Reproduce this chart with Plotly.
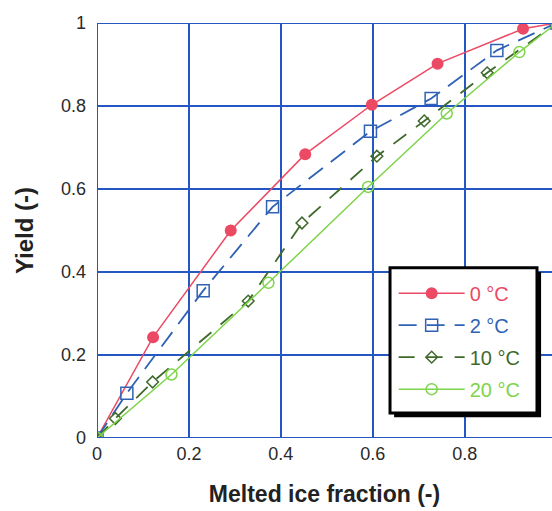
import plotly.graph_objects as go

# Data
x0 = [0, 0.122, 0.291, 0.453, 0.598, 0.741, 0.927, 1.0]
y0 = [0, 0.243, 0.500, 0.684, 0.803, 0.902, 0.986, 1.0]

x2 = [0, 0.065, 0.231, 0.382, 0.595, 0.727, 0.870, 1.0]
y2 = [0, 0.108, 0.355, 0.557, 0.739, 0.818, 0.934, 1.0]

x10 = [0, 0.040, 0.121, 0.329, 0.446, 0.609, 0.712, 0.849, 1.0]
y10 = [0, 0.047, 0.135, 0.330, 0.518, 0.679, 0.764, 0.880, 1.0]

x20 = [0, 0.162, 0.373, 0.590, 0.761, 0.919, 1.0]
y20 = [0, 0.153, 0.374, 0.605, 0.782, 0.930, 1.0]

tick_vals = [0, 0.2, 0.4, 0.6, 0.8, 1]
tick_text = ["0", "0.2", "0.4", "0.6", "0.8", "1"]

RED = "#ec4a64"
BLUE = "#2f62b4"
DKGREEN = "#3f6a2c"
LTGREEN = "#7ed44a"
GRID = "#2456c4"
FONT = "Liberation Sans, Arial, sans-serif"

fig = go.Figure()
fig.add_trace(go.Scatter(
    x=x0, y=y0, mode="lines+markers", legendgroup="a",
    name=f"<span style='color:{RED}'>0 °C</span>",
    line=dict(color=RED, width=1.5),
    marker=dict(symbol="circle", size=12, color=RED)))
fig.add_trace(go.Scatter(
    x=x2, y=y2, mode="lines+markers", legendgroup="b",
    name=f"<span style='color:{BLUE}'>2 °C</span>",
    line=dict(color=BLUE, width=1.8, dash="18px,10px"),
    marker=dict(symbol="square-open", size=12, color=BLUE, line=dict(width=1.5))))
fig.add_trace(go.Scatter(
    x=x10, y=y10, mode="lines+markers", legendgroup="c",
    name=f"<span style='color:{DKGREEN}'>10 °C</span>",
    line=dict(color=DKGREEN, width=1.8, dash="16px,12px"),
    marker=dict(symbol="diamond-open", size=9, color=DKGREEN, line=dict(width=1.5))))
fig.add_trace(go.Scatter(
    x=x20, y=y20, mode="lines+markers", legendgroup="d",
    name=f"<span style='color:{LTGREEN}'>20 °C</span>",
    line=dict(color=LTGREEN, width=1.5),
    marker=dict(symbol="circle-open", size=11, color=LTGREEN, line=dict(width=1.5))))

# frame lines (left, top, bottom) in the grid colour
fig.add_shape(type="line", xref="x", yref="paper", x0=0, x1=0, y0=0, y1=1,
              line=dict(color=GRID, width=2))
fig.add_shape(type="line", xref="paper", yref="y", x0=0, x1=1, y0=1, y1=1,
              line=dict(color=GRID, width=2))
fig.add_shape(type="line", xref="paper", yref="y", x0=0, x1=1, y0=0, y1=0,
              line=dict(color=GRID, width=2))

# legend box: shadow + white box with thick black border
fig.add_shape(type="rect", xref="paper", yref="paper",
              x0=0.653, x1=0.976, y0=0.050, y1=0.400,
              fillcolor="black", line=dict(width=0))
fig.add_shape(type="rect", xref="paper", yref="paper",
              x0=0.644, x1=0.967, y0=0.060, y1=0.410,
              fillcolor="white", line=dict(color="black", width=3))

fig.update_layout(
    width=552, height=511,
    margin=dict(l=97, r=0, t=23, b=73),
    paper_bgcolor="white", plot_bgcolor="white",
    font=dict(family=FONT, size=18, color="#2a2a2a"),
    showlegend=True,
    legend=dict(x=0.652, y=0.396, xanchor="left", yanchor="top",
                bgcolor="rgba(0,0,0,0)", borderwidth=0,
                font=dict(size=20, family=FONT),
                tracegroupgap=3, traceorder="grouped", itemwidth=66),
    xaxis=dict(range=[0, 0.99], tickvals=tick_vals, ticktext=tick_text,
               showgrid=True, gridcolor=GRID, gridwidth=1.5,
               zeroline=False, showline=False, ticks="", ticklabelstandoff=3,
               title=dict(text="<b>Melted ice fraction (-)</b>",
                          font=dict(size=23, color="#222"), standoff=22),
               tickfont=dict(size=18)),
    yaxis=dict(range=[0, 1.0], tickvals=tick_vals, ticktext=tick_text,
               showgrid=True, gridcolor=GRID, gridwidth=1.5,
               zeroline=False, showline=False, ticks="", ticklabelstandoff=10,
               title=dict(text="<b>Yield (-)</b>",
                          font=dict(size=24, color="#222"), standoff=20),
               tickfont=dict(size=18)),
)

fig.write_html("out.html")
